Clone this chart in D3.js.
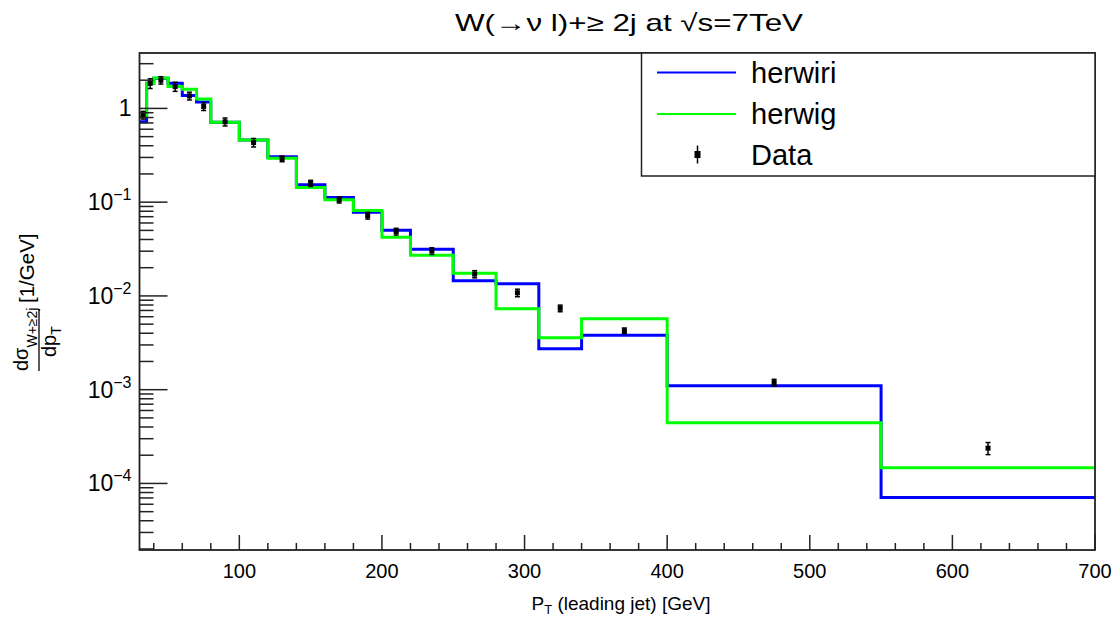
<!DOCTYPE html>
<html>
<head>
<meta charset="utf-8">
<script src="https://cdn.jsdelivr.net/npm/d3@7"></script>
<style>
  body { margin: 0; background: #fff; }
  svg { display: block; }
  text { font-family: "Liberation Sans", Arial, Helvetica, sans-serif; fill: #000; }
</style>
</head>
<body>
<svg id="chart" width="1114" height="618"></svg>
<script>
// Leading-jet pT bin edges [GeV]
const binEdges = [30, 35, 40, 50, 60, 70, 80, 100, 120, 140, 160, 180, 200, 220, 250, 280, 310, 340, 400, 550, 700];

// Predicted dσ/dpT per bin [1/GeV]
const herwiri = [0.72, 1.86, 2.1, 1.85, 1.37, 1.17, 0.71, 0.46, 0.306, 0.153, 0.112, 0.078, 0.0502, 0.0315,
                 0.0145, 0.0135, 0.00273, 0.0038, 0.0011, 7.1e-5];
const herwig  = [0.82, 1.86, 2.11, 1.71, 1.6, 1.26, 0.71, 0.46, 0.294, 0.143, 0.106, 0.0813, 0.0423, 0.0272,
                 0.01745, 0.00731, 0.00358, 0.00571, 0.000444, 0.000147];

// Measured points (bin centres, values, errors)
const dataX   = [32.5, 37.5, 45, 55, 65, 75, 90, 110, 130, 150, 170, 190, 210, 235, 265, 295, 325, 370, 475, 625];
const dataY   = [0.85, 1.85, 2.0, 1.71, 1.36, 1.05, 0.72, 0.433, 0.29, 0.159, 0.106, 0.072, 0.0486, 0.0302,
                 0.0171, 0.0108, 0.00738, 0.00425, 0.00119, 0.000238];
const dataErr = [0.08, 0.22, 0.18, 0.19, 0.13, 0.1, 0.07, 0.045, 0.02, 0.012, 0.008, 0.006, 0.004, 0.0025,
                 0.0015, 0.001, 0.0006, 0.0003, 0.0001, 0.000035];

// Axis ticks
const xMajorTicks = [100, 200, 300, 400, 500, 600, 700];
const yDecades = [-4, -3, -2, -1, 0];

const svg = d3.select("#chart");
const frame = { left: 139.5, right: 1095, top: 53, bottom: 550 };

const x = d3.scaleLinear().domain([30, 700]).range([frame.left, frame.right]);
const y = d3.scaleLog().domain([1.95e-5, 3.9]).range([frame.bottom, frame.top]);

// Step histograms
const stepLine = d3.line()
  .x(d => x(d[0]))
  .y(d => y(d[1]))
  .curve(d3.curveStepAfter);

function histPoints(values) {
  return binEdges.map((e, i) => [e, values[Math.min(i, values.length - 1)]]);
}

const plot = svg.append("g");
plot.append("path").attr("d", stepLine(histPoints(herwiri)))
  .attr("fill", "none").attr("stroke", "#0000ff").attr("stroke-width", 3);
plot.append("path").attr("d", stepLine(histPoints(herwig)))
  .attr("fill", "none").attr("stroke", "#00ff00").attr("stroke-width", 3);

// Data points with error bars
const pts = plot.append("g").selectAll("g").data(dataX.map((v, i) => ({ x: v, y: dataY[i], e: dataErr[i] })))
  .join("g");
pts.append("line")
  .attr("x1", d => x(d.x)).attr("x2", d => x(d.x))
  .attr("y1", d => y(d.y + d.e)).attr("y2", d => y(d.y - d.e))
  .attr("stroke", "#000").attr("stroke-width", 1.5);
pts.append("line")
  .attr("x1", d => x(d.x) - 2.5).attr("x2", d => x(d.x) + 2.5)
  .attr("y1", d => y(d.y + d.e)).attr("y2", d => y(d.y + d.e))
  .attr("stroke", "#000").attr("stroke-width", 1.5);
pts.append("line")
  .attr("x1", d => x(d.x) - 2.5).attr("x2", d => x(d.x) + 2.5)
  .attr("y1", d => y(d.y - d.e)).attr("y2", d => y(d.y - d.e))
  .attr("stroke", "#000").attr("stroke-width", 1.5);
pts.append("rect")
  .attr("x", d => x(d.x) - 2.5).attr("y", d => y(d.y) - 2.5)
  .attr("width", 5).attr("height", 5).attr("fill", "#000");

// Frame
svg.append("rect")
  .attr("x", frame.left).attr("y", frame.top)
  .attr("width", frame.right - frame.left).attr("height", frame.bottom - frame.top)
  .attr("fill", "none").attr("stroke", "#222").attr("stroke-width", 1.8);

// Y axis ticks (inside the frame): majors at decades, minors at 2..9
const axisG = svg.append("g").attr("stroke", "#222").attr("stroke-width", 1.5);
const yMin = y.domain()[0], yMax = y.domain()[1];
[-5, -4, -3, -2, -1, 0].forEach(p => {
  for (let m = 1; m <= 9; m++) {
    const v = m * Math.pow(10, p);
    if (v < yMin || v > yMax) continue;
    axisG.append("line")
      .attr("x1", frame.left).attr("x2", frame.left + (m === 1 ? 28 : 14))
      .attr("y1", y(v)).attr("y2", y(v));
  }
});

// X axis ticks: majors every 100, minors every 20
for (let v = 40; v <= 700; v += 20) {
  const major = xMajorTicks.includes(v);
  axisG.append("line")
    .attr("x1", x(v)).attr("x2", x(v))
    .attr("y1", frame.bottom).attr("y2", frame.bottom - (major ? 15 : 7));
}

// Y tick labels
yDecades.forEach(p => {
  const t = svg.append("text")
    .attr("x", frame.left - 8).attr("y", y(Math.pow(10, p)) + 8)
    .attr("text-anchor", "end").attr("font-size", 23);
  if (p === 0) {
    t.text("1");
  } else {
    t.append("tspan").text("10");
    t.append("tspan").attr("dy", -10).attr("font-size", 16).text("\u2212" + (-p));
  }
});

// X tick labels
xMajorTicks.forEach(v => {
  svg.append("text")
    .attr("x", x(v)).attr("y", 578)
    .attr("text-anchor", "middle").attr("font-size", 20)
    .text(v);
});

// X axis title
const xt = svg.append("text").attr("x", 621).attr("y", 610).attr("text-anchor", "middle").attr("font-size", 19);
xt.append("tspan").text("P");
xt.append("tspan").attr("dy", 4).attr("font-size", 13).text("T");
xt.append("tspan").attr("dy", -4).text(" (leading jet) [GeV]");

// Y axis title: dσ_{W+≥2j}/dp_T [1/GeV], written bottom-to-top
const ytg = svg.append("g").attr("transform", "translate(44,371) rotate(-90)");
ytg.append("line").attr("x1", 0).attr("x2", 62).attr("y1", -5).attr("y2", -5)
  .attr("stroke", "#000").attr("stroke-width", 1.3);
const num = ytg.append("text").attr("x", 0).attr("y", -16).attr("font-size", 20);
num.append("tspan").text("d\u03c3");
num.append("tspan").attr("dy", 9).attr("font-size", 14).text("W+\u22652j");
const den = ytg.append("text").attr("x", 14).attr("y", 12).attr("font-size", 20);
den.append("tspan").text("dp");
den.append("tspan").attr("dy", 5).attr("font-size", 14).text("T");
ytg.append("text").attr("x", 68).attr("y", -10).attr("font-size", 20.5).text("[1/GeV]");

// Title
svg.append("text").attr("x", 455).attr("y", 31).attr("font-size", 24)
  .attr("textLength", 348).attr("lengthAdjust", "spacingAndGlyphs")
  .text("W(\u2192\u03bd l)+\u2265 2j at \u221as=7TeV");

// Legend
const leg = svg.append("g");
leg.append("rect").attr("x", 641.5).attr("y", 53).attr("width", 1095 - 641.5).attr("height", 123)
  .attr("fill", "#fff").attr("stroke", "#222").attr("stroke-width", 1.5);
const legendItems = [
  { label: "herwiri", color: "#0000ff", y: 72.5 },
  { label: "herwig", color: "#00ff00", y: 114 },
  { label: "Data", color: null, y: 154.5 }
];
legendItems.forEach(it => {
  if (it.color) {
    leg.append("line").attr("x1", 657).attr("x2", 736).attr("y1", it.y).attr("y2", it.y)
      .attr("stroke", it.color).attr("stroke-width", 2);
  } else {
    leg.append("line").attr("x1", 697.5).attr("x2", 697.5).attr("y1", it.y - 9).attr("y2", it.y + 9)
      .attr("stroke", "#000").attr("stroke-width", 1.5);
    leg.append("rect").attr("x", 694.5).attr("y", it.y - 3.5).attr("width", 6).attr("height", 7).attr("fill", "#000");
  }
  leg.append("text").attr("x", 751).attr("y", it.y + 10).attr("font-size", 29).text(it.label);
});
</script>
</body>
</html>
